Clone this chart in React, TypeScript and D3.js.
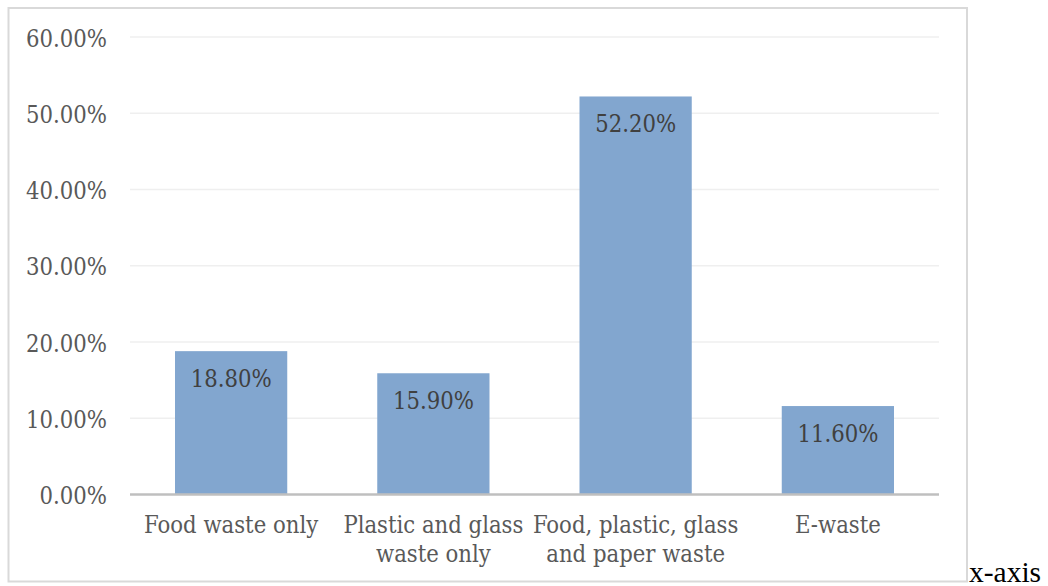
import React from "react";
import * as d3 from "d3";

const categories: string[] = [
  "Food waste only",
  "Plastic and glass\nwaste only",
  "Food, plastic, glass\nand paper waste",
  "E-waste",
];
const values: number[] = [0.188, 0.159, 0.522, 0.116];
const yTicks: number[] = [0, 0.1, 0.2, 0.3, 0.4, 0.5, 0.6];
const trailingText = "x-axis";

const W = 1048;
const H = 586;
const plot = { left: 130, right: 939, top: 37, bottom: 494.5 };
const FONT = "'DejaVu Serif Condensed', 'DejaVu Serif', serif";
const FS = 23.6;
const TEXT = "#595959";

export default function App() {
  const x = d3
    .scaleBand<string>()
    .domain(categories)
    .range([plot.left, plot.right])
    .paddingInner(0.445)
    .paddingOuter(0.2225);
  const y = d3.scaleLinear().domain([0, 0.6]).range([plot.bottom, plot.top]);
  const fmt = d3.format(".2%");

  return (
    <svg
      width={W}
      height={H}
      style={{ position: "absolute", left: 0, top: 0 }}
      xmlns="http://www.w3.org/2000/svg"
    >
      <rect x={0} y={0} width={W} height={H} fill="#ffffff" />
      <rect
        x={8.5}
        y={8}
        width={958.5}
        height={573.5}
        fill="#ffffff"
        stroke="#d9d9d9"
        strokeWidth={2}
      />
      {yTicks.slice(1).map((t) => (
        <line
          key={"g" + t}
          x1={plot.left}
          x2={plot.right}
          y1={y(t)}
          y2={y(t)}
          stroke="#efefef"
          strokeWidth={1.5}
        />
      ))}
      {yTicks.map((t) => (
        <text
          key={"t" + t}
          x={107}
          y={y(t) + 9.5}
          textAnchor="end"
          style={{ fontFamily: FONT, fontSize: FS }}
          fill={TEXT}
        >
          {fmt(t)}
        </text>
      ))}
      {values.map((v, i) => (
        <rect
          key={"b" + i}
          x={x(categories[i])}
          y={y(v)}
          width={x.bandwidth()}
          height={y(0) - y(v)}
          fill="#82a6cf"
        />
      ))}
      <line
        x1={plot.left}
        x2={plot.right}
        y1={y(0)}
        y2={y(0)}
        stroke="#bfbfbf"
        strokeWidth={2.5}
      />
      {values.map((v, i) => (
        <text
          key={"l" + i}
          x={(x(categories[i]) as number) + x.bandwidth() / 2}
          y={y(v) + 36}
          textAnchor="middle"
          style={{ fontFamily: FONT, fontSize: FS }}
          fill="#404040"
        >
          {fmt(v)}
        </text>
      ))}
      {categories.map((c, i) => (
        <text
          key={"c" + i}
          x={(x(c) as number) + x.bandwidth() / 2}
          y={533.3}
          textAnchor="middle"
          style={{ fontFamily: FONT, fontSize: FS }}
          fill={TEXT}
        >
          {c.split("\n").map((line, j) => (
            <tspan key={j} x={(x(c) as number) + x.bandwidth() / 2} dy={j === 0 ? 0 : 28.5}>
              {line}
            </tspan>
          ))}
        </text>
      ))}
      <text
        x={969}
        y={581.5}
        style={{ fontFamily: "'Liberation Serif', 'Times New Roman', serif", fontSize: 29.5 }}
        fill="#000000"
      >
        {trailingText}
      </text>
    </svg>
  );
}
